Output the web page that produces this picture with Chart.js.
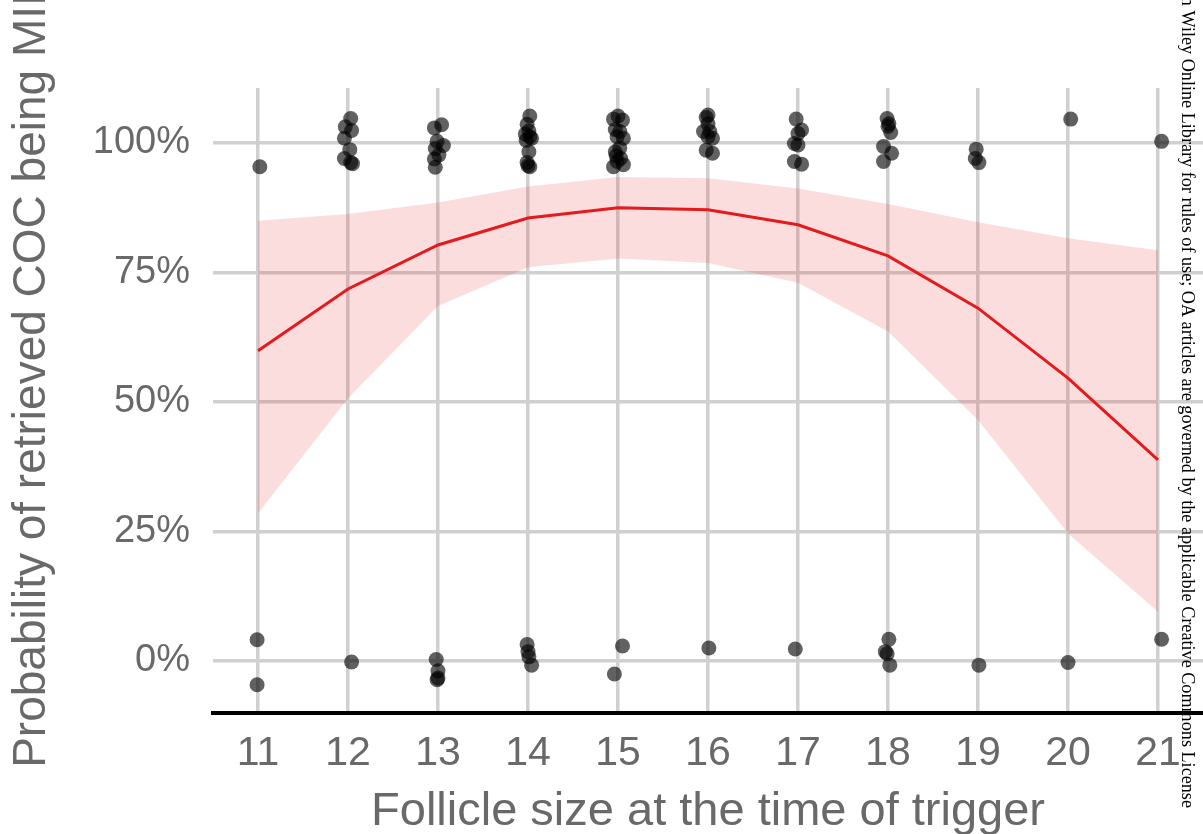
<!DOCTYPE html>
<html>
<head>
<meta charset="utf-8">
<script src="https://cdn.jsdelivr.net/npm/chart.js@4.4.1/dist/chart.umd.min.js"></script>
<style>
html,body{margin:0;padding:0;overflow:hidden;background:#ffffff;}
canvas{display:block;}
</style>
</head>
<body>
<canvas id="c" width="1203" height="860"></canvas>
<script>
// ---- data ----
const follicleSizes = [11, 12, 13, 14, 15, 16, 17, 18, 19, 20, 21];
const fitProb  = [59.9, 71.8, 80.3, 85.5, 87.5, 87.1, 84.2, 78.2, 68.1, 54.6, 38.8];
const fitLower = [28.5, 50.7, 68.5, 76.0, 77.7, 76.8, 73.0, 63.6, 46.5, 24.6, 9.5];
const fitUpper = [85.0, 86.3, 88.5, 91.6, 93.4, 93.2, 91.2, 88.2, 84.7, 81.6, 79.3];

// jittered observations (follicle size, outcome in %)
const obsSize = [
  11.02, 10.99, 10.99,
  12.03, 11.97, 12.04, 11.96, 12.02, 11.96, 12.03, 12.05, 12.04,
  13.04, 12.96, 12.99, 13.06, 12.97, 13.01, 12.96, 12.97, 12.98, 13.00, 13.00, 12.99,
  14.02, 13.99, 14.01, 13.97, 14.02, 14.04, 13.98, 14.01, 13.99, 14.00, 14.02, 13.99, 14.00, 14.01, 14.04,
  15.00, 14.95, 15.05, 14.97, 15.02, 14.99, 15.06, 15.02, 14.97, 14.98, 15.03, 14.99, 14.95, 15.06, 15.05, 14.96,
  16.00, 15.98, 16.00, 15.95, 16.02, 16.00, 16.05, 15.98, 16.05, 16.01,
  16.98, 17.04, 17.00, 16.96, 17.00, 16.96, 17.04, 16.97,
  17.99, 18.01, 18.00, 18.03, 17.95, 18.04, 17.95, 18.01, 17.97, 17.99, 18.02,
  18.98, 18.97, 19.01, 19.01,
  20.03, 20.00,
  21.04, 21.04
];
const obsProb = [
  95.4, 4.1, -4.6,
  104.7, 103.1, 102.4, 100.9, 98.7, 97.0, 96.2, 96.0, -0.2,
  103.5, 102.9, 100.3, 99.5, 98.9, 97.7, 96.9, 95.3, 0.3, -1.9, -3.3, -3.6,
  105.2, 103.6, 102.3, 101.7, 101.2, 100.9, 100.5, 98.3, 96.2, 95.6, 95.4, 3.2, 1.8, 0.8, -0.8,
  105.2, 104.6, 104.4, 102.6, 102.2, 101.2, 100.9, 99.0, 98.3, 97.5, 97.0, 96.4, 95.4, 95.8, 2.9, -2.5,
  105.4, 104.9, 103.7, 102.2, 102.2, 101.2, 100.9, 98.6, 98.0, 2.5,
  104.6, 102.5, 101.8, 99.9, 99.6, 96.4, 95.9, 2.3,
  104.7, 103.7, 103.2, 102.0, 99.3, 98.0, 96.4, 4.2, 1.8, 1.4, -0.8,
  98.8, 97.0, 96.2, -0.8,
  104.6, -0.3,
  100.3, 4.2
];

const yTickValues = [0, 25, 50, 75, 100];
const xTitle = 'Follicle size at the time of trigger';
const yTitle = 'Probability of retrieved COC being MII';
const watermarkText = 'on Wiley Online Library for rules of use; OA articles are governed by the applicable Creative Commons License';

// ---- chart ----
const SANS = "'Liberation Sans', Arial, Helvetica, sans-serif";
const SERIF = "'Liberation Serif', 'Times New Roman', serif";
const TEXT_GREY = '#696969';
const GRID = '#d0d0d0';

const toPts = (xs, ys) => xs.map((x, i) => ({ x: x, y: ys[i] }));

const overlayText = {
  id: 'overlayText',
  afterDraw(chart) {
    const ctx = chart.ctx;
    const a = chart.chartArea;
    // y-axis title
    ctx.save();
    ctx.translate(32, (a.top + a.bottom) / 2 - 20);
    ctx.rotate(-Math.PI / 2);
    ctx.font = '46px ' + SANS;
    ctx.fillStyle = TEXT_GREY;
    ctx.textAlign = 'center';
    ctx.textBaseline = 'middle';
    ctx.fillText(yTitle, 0, 0);
    ctx.restore();
    // right-margin watermark
    ctx.save();
    ctx.translate(1187, 808);
    ctx.rotate(Math.PI / 2);
    ctx.font = '100px ' + SERIF;
    const w100 = ctx.measureText(watermarkText.slice(3)).width;
    const size = 100 * 798 / w100;
    ctx.font = size.toFixed(2) + 'px ' + SERIF;
    ctx.fillStyle = '#000000';
    ctx.textAlign = 'right';
    ctx.textBaseline = 'middle';
    ctx.fillText(watermarkText, 0, 0);
    ctx.restore();
  }
};

new Chart(document.getElementById('c'), {
  type: 'line',
  data: {
    datasets: [
      {
        type: 'scatter',
        label: 'observed',
        data: toPts(obsSize, obsProb),
        backgroundColor: 'rgba(0,0,0,0.62)',
        borderWidth: 0,
        pointRadius: 7.5,
        pointHoverRadius: 7.5,
        order: 0
      },
      {
        label: 'fit',
        data: toPts(follicleSizes, fitProb),
        borderColor: '#e41a1c',
        borderWidth: 3,
        pointRadius: 0,
        fill: false,
        tension: 0,
        order: 1
      },
      {
        label: 'upper',
        data: toPts(follicleSizes, fitUpper),
        borderWidth: 0,
        borderColor: 'rgba(0,0,0,0)',
        backgroundColor: 'rgba(228,26,28,0.15)',
        pointRadius: 0,
        fill: '+1',
        tension: 0,
        order: 2
      },
      {
        label: 'lower',
        data: toPts(follicleSizes, fitLower),
        borderWidth: 0,
        borderColor: 'rgba(0,0,0,0)',
        pointRadius: 0,
        fill: false,
        tension: 0,
        order: 3
      }
    ]
  },
  options: {
    responsive: false,
    animation: false,
    events: [],
    layout: { autoPadding: false, padding: { top: 88, right: 0, bottom: 0, left: 0 } },
    plugins: { legend: { display: false }, tooltip: { enabled: false } },
    scales: {
      x: {
        type: 'linear',
        min: 10.5,
        max: 21.5,
        afterBuildTicks: s => { s.ticks = follicleSizes.map(v => ({ value: v })); },
        afterFit: s => { s.height = 147; s.paddingLeft = 0; s.paddingRight = 0; },
        ticks: {
          font: { family: SANS, size: 41 },
          color: TEXT_GREY,
          padding: 16,
          maxRotation: 0,
          autoSkip: false
        },
        grid: { color: GRID, lineWidth: 3.5, drawTicks: false },
        border: { display: true, color: '#000000', width: 4 },
        title: {
          display: true,
          text: xTitle,
          color: TEXT_GREY,
          font: { family: SANS, size: 47 },
          padding: { top: 0, bottom: 20 }
        }
      },
      y: {
        type: 'linear',
        min: -10.04,
        max: 110.6,
        afterBuildTicks: s => { s.ticks = yTickValues.map(v => ({ value: v })); },
        afterFit: s => { s.width = 213; s.paddingTop = 0; s.paddingBottom = 0; },
        ticks: {
          font: { family: SANS, size: 38 },
          color: TEXT_GREY,
          padding: 23,
          callback: v => v + '%'
        },
        grid: { color: GRID, lineWidth: 3.5, drawTicks: false },
        border: { display: false }
      }
    }
  },
  plugins: [overlayText]
});
</script>
</body>
</html>
